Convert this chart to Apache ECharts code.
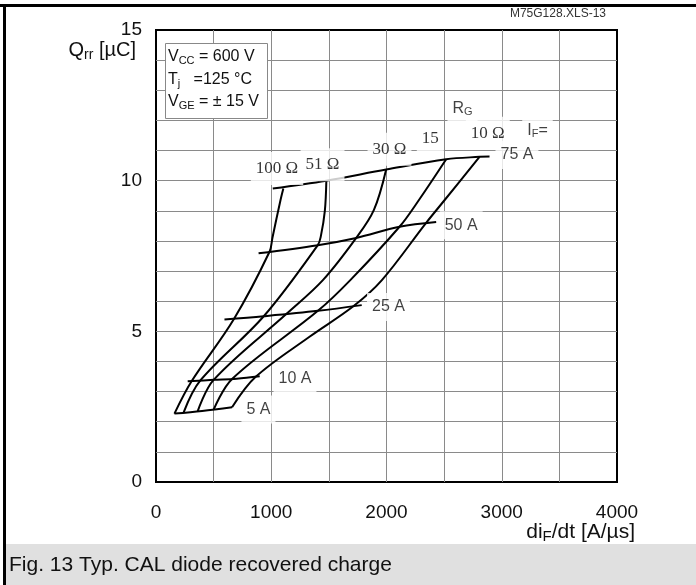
<!DOCTYPE html>
<html><head><meta charset="utf-8">
<script src="https://cdn.jsdelivr.net/npm/echarts@6/dist/echarts.min.js"></script>
<style>html,body{margin:0;padding:0;background:#fff}#c{width:696px;height:585px}</style>
</head><body><div id="c"></div>
<script>
// ---- tick labels ----
const xTickLabels = [0, 1000, 2000, 3000, 4000];
const yTickLabels = [0, 5, 10, 15];

// ---- R_G curves: [diF/dt (A/us), Qrr (uC)] ----
const rg100 = [[160,2.27],[310,3.35],[675,5.40],[985,7.64],[1010,8.1],[1080,9.35],[1105,9.74]];
const rg51  = [[240,2.31],[385,3.37],[935,5.50],[1404,7.86],[1430,8.15],[1465,9.0],[1478,10.0]];
const rg30  = [[362,2.35],[500,3.39],[1135,5.59],[1448,6.70],[1737,8.10],[1890,9.02],[1997,10.37]];
const rg15  = [[500,2.40],[660,3.42],[1405,5.68],[1686,6.70],[2113,8.47],[2280,9.35],[2518,10.71]];
const rg10  = [[660,2.48],[865,3.49],[1332,4.82],[1715,5.84],[1960,6.70],[2344,8.60],[2503,9.35],[2807,10.79]];

// ---- I_F lines ----
const if5  = [[160,2.27],[400,2.36],[660,2.48]];
const if10 = [[275,3.34],[500,3.39],[700,3.43],[900,3.51]];
const if25 = [[594,5.39],[935,5.50],[1405,5.68],[1785,5.87]];
const if50 = [[890,7.59],[1404,7.86],[1737,8.10],[2113,8.47],[2431,8.63]];
const if75 = [[1013,9.74],[1477,10.0],[1997,10.37],[2518,10.71],[2807,10.79],[2894,10.80]];

// ---- curve annotations [x, y, text] ----
const rgLabels = [[1050,10.40,'100 Ω'],[1445,10.53,'51 Ω'],[2026,11.04,'30 Ω'],[2380,11.40,'15'],[2879,11.57,'10 Ω']];
const ifLabels = [[3132,10.85,'75 A'],[2648,8.52,'50 A'],[2017,5.81,'25 A'],[1206,3.43,'10 A'],[889,2.41,'5 A'],
                  [2660,12.40,'R{s|G}'],[3310,11.67,'I{s|F}=']];

const SANS = '"Liberation Sans", Arial, Helvetica, sans-serif';
const SERIF = '"Liberation Serif", "Times New Roman", serif';

const chart = echarts.init(document.getElementById('c'), null, {renderer: 'canvas'});

const curve = (data) => ({
  type: 'line', data: data, smooth: 0.35, symbol: 'none', silent: true, z: 3,
  lineStyle: {color: '#000', width: 2}, animation: false
});

const subRich = {s: {fontSize: 11, fontFamily: SANS, padding: [8, 0, 0, 0]}};

const option = {
  animation: false,
  backgroundColor: '#fff',
  grid: {left: 156, right: 79, top: 30, bottom: 103, show: true, borderColor: '#000', borderWidth: 2, backgroundColor: 'transparent'},
  xAxis: {
    type: 'value', min: 0, max: 4000, interval: 500,
    axisLine: {show: false}, axisTick: {show: false},
    splitLine: {show: true, showMinLine: false, showMaxLine: false, lineStyle: {color: '#8a8a8a', width: 1}},
    axisLabel: {
      margin: 21, fontSize: 19, fontFamily: SANS, color: '#111',
      formatter: v => xTickLabels.includes(v) ? String(v) : ''
    }
  },
  yAxis: {
    type: 'value', min: 0, max: 15, interval: 1,
    axisLine: {show: false}, axisTick: {show: false},
    splitLine: {show: true, showMinLine: false, showMaxLine: false, lineStyle: {color: '#8a8a8a', width: 1}},
    axisLabel: {
      margin: 14, fontSize: 19, fontFamily: SANS, color: '#111',
      formatter: v => yTickLabels.includes(v) ? String(v) : ''
    }
  },
  series: [
    curve(rg100), curve(rg51), curve(rg30), curve(rg15), curve(rg10),
    curve(if5), curve(if10), curve(if25), curve(if50), curve(if75),
    {
      type: 'scatter', symbolSize: 0, silent: true, z: 5,
      data: rgLabels.map(d => ({value: [d[0], d[1]], name: d[2]})),
      label: {show: true, position: 'inside', formatter: '{b}', fontFamily: SERIF, fontSize: 17,
              color: '#000', backgroundColor: '#fff', padding: [8, 5]}
    },
    {
      type: 'scatter', symbolSize: 0, silent: true, z: 5,
      data: ifLabels.map(d => ({value: [d[0], d[1]], name: d[2]})),
      label: {show: true, position: 'inside', formatter: '{b}', fontFamily: SANS, fontSize: 16,
              color: '#111', backgroundColor: '#fff', padding: [6, 5], rich: subRich}
    }
  ],
  graphic: [
    {type: 'rect', shape: {x: 0, y: 4, width: 696, height: 3}, style: {fill: '#000'}, z: 10},
    {type: 'rect', shape: {x: 3, y: 4, width: 3, height: 581}, style: {fill: '#000'}, z: 10},
    {type: 'rect', shape: {x: 6, y: 544, width: 690, height: 41}, style: {fill: '#e0e0e0'}, z: 10},
    {type: 'text', z: 11, style: {text: 'Fig. 13 Typ. CAL diode recovered charge', x: 9, y: 565,
      fontSize: 21, fontFamily: SANS, fill: '#111', align: 'left', verticalAlign: 'middle'}},
    {type: 'text', z: 11, style: {text: 'M75G128.XLS-13', x: 606, y: 14,
      fontSize: 12, fontFamily: SANS, fill: '#333', align: 'right', verticalAlign: 'middle'}},
    {type: 'text', z: 11, style: {text: 'Q{s|rr} [µC]', x: 136, y: 50,
      fontSize: 20, fontFamily: SANS, fill: '#111', align: 'right', verticalAlign: 'middle',
      rich: {s: {fontSize: 14, fontFamily: SANS, padding: [10, 0, 0, 0]}}}},
    {type: 'text', z: 11, style: {text: 'di{s|F}/dt [A/µs]', x: 635, y: 532,
      fontSize: 21, fontFamily: SANS, fill: '#111', align: 'right', verticalAlign: 'middle',
      rich: {s: {fontSize: 15, fontFamily: SANS, padding: [10, 0, 0, 0]}}}},
    {type: 'rect', z: 11, shape: {x: 165.5, y: 43.5, width: 102, height: 75},
      style: {fill: '#fff', stroke: '#888', lineWidth: 1}},
    {type: 'text', z: 12, style: {text: 'V{s|CC} = 600 V', x: 168, y: 57, fontSize: 16, fontFamily: SANS,
      fill: '#111', align: 'left', verticalAlign: 'middle', rich: subRich}},
    {type: 'text', z: 12, style: {text: 'T{s|j}   =125 °C', x: 168, y: 79.5, fontSize: 16, fontFamily: SANS,
      fill: '#111', align: 'left', verticalAlign: 'middle', rich: subRich}},
    {type: 'text', z: 12, style: {text: 'V{s|GE} = ± 15 V', x: 168, y: 102, fontSize: 16, fontFamily: SANS,
      fill: '#111', align: 'left', verticalAlign: 'middle', rich: subRich}}
  ]
};
chart.setOption(option);
</script>
</body></html>
